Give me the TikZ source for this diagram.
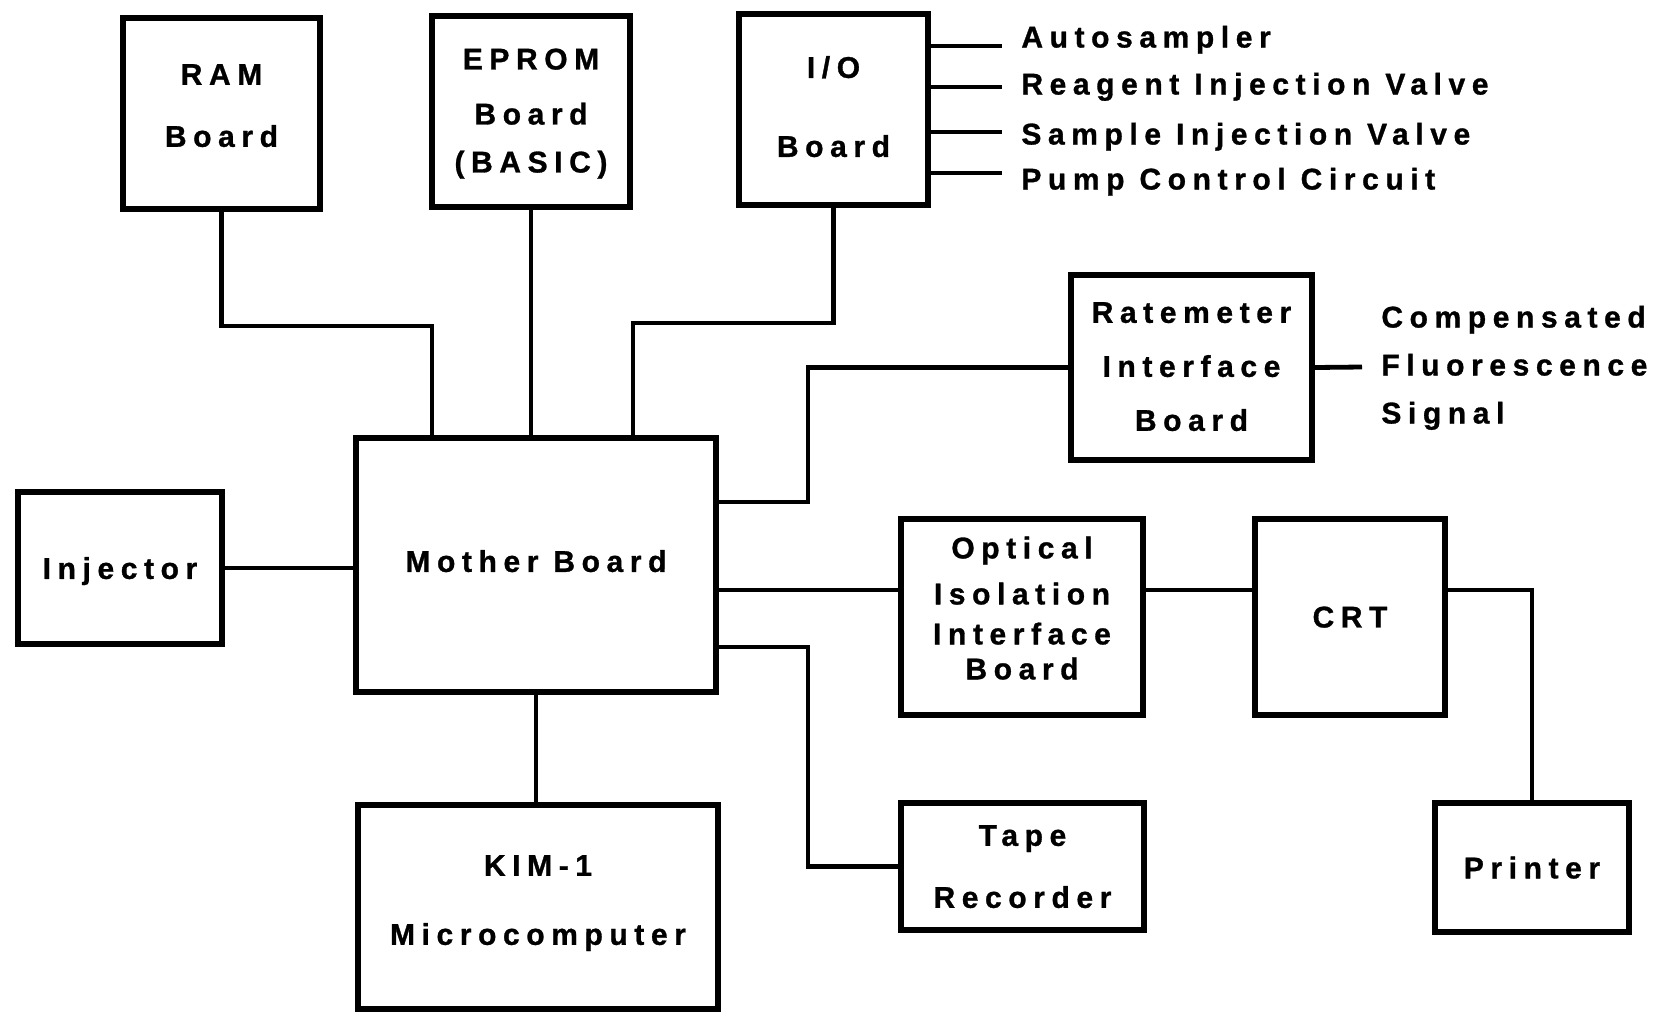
\documentclass[tikz,border=0pt]{standalone}
\usepackage{fontspec}
\newfontfamily\figfont[LetterSpace=22.0, FakeBold=1]{Liberation Sans}
\usepackage{tikz}
\usetikzlibrary{positioning}
\tikzset{
    block/.style={rectangle, draw=black, line width=2.8pt, fill=white, align=center, inner sep=0pt, text depth=0pt, font=\figfont\bfseries\fontsize{15}{18}\selectfont},
    wire/.style={line width=2.4pt},
    lbl/.style={inner sep=0pt, align=left, font=\figfont\bfseries\fontsize{15}{18}\selectfont}
}

\begin{document}
\begin{tikzpicture}[x=0.5pt, y=-0.5pt]
    \useasboundingbox (0,0) rectangle (1662,1013);
    % boards round the mother board
    \node (ram) [block, minimum width=98.7pt, minimum height=95.7pt, text depth=8pt] at (221.5,113.5) {RAM\\[13pt]Board};
    \node (eprom) [block, minimum width=99.2pt, minimum height=95.7pt, text depth=1pt] at (531,111.5) {EPROM\\[9.5pt]Board\\[6pt](BASIC)};
    \node (io) [block, minimum width=94.7pt, minimum height=95.7pt, text depth=3pt] at (833.5,109.5) {I/O\\[21.5pt]Board};
    \node (mother) [block, minimum width=180.2pt, minimum height=127.2pt, text depth=4pt] at (536,565) {Mother Board};
    \node (inj) [block, minimum width=102.2pt, minimum height=76.2pt] at (120,568) {Injector};
    \node (kim) [block, minimum width=180.2pt, minimum height=102.2pt, text depth=7pt] at (538,907) {KIM-1\\[16.5pt]Microcomputer};
    \node (rate) [block, minimum width=120.7pt, minimum height=92.7pt, text depth=1pt] at (1191.5,367.5) {Ratemeter\\[9pt]Interface\\[9pt]Board};
    \node (opt) [block, minimum width=121.2pt, minimum height=98.2pt, text depth=9pt] at (1022,617) {Optical\\[5pt]Isolation\\[2pt]Interface\\[-0.5pt]Board};
    \node (crt) [block, minimum width=95.2pt, minimum height=98.2pt] at (1350,617) {CRT};
    \node (tape) [block, minimum width=121.7pt, minimum height=63.7pt] at (1022.5,866.5) {Tape\\[13pt]Recorder};
    \node (prn) [block, minimum width=97.2pt, minimum height=64.7pt] at (1532,867.5) {Printer};

    % I/O lines and their labels
    \foreach \n/\y in {1/46, 2/87, 3/132, 4/173} {
        \coordinate (out\n) at (1002,\y);
        \draw [wire] (out\n -| io.east) -- (out\n);
    }
    \node (autos) [lbl, anchor=base west] at (1021,47.5) {Autosampler};
    \node (reag) [lbl, anchor=base west] at (1021,94.5) {Reagent Injection Valve};
    \node (samp) [lbl, anchor=base west] at (1021,144.5) {Sample Injection Valve};
    \node (pump) [lbl, anchor=base west] at (1021,189.5) {Pump Control Circuit};

    % bus lines
    \coordinate (ramturn) at (432,326);
    \coordinate (ioturn) at (633,323);
    \coordinate (rateturn) at (808,502);
    \coordinate (tapeturn) at (808,647);
    \coordinate (optlvl) at (0,590);
    \coordinate (sigend) at (1362,367);
    \draw [wire] (ram.south) |- (ramturn) -- (ramturn |- mother.north);
    \draw [wire] (eprom.south) -- (eprom.south |- mother.north);
    \draw [wire] (io.south) |- (ioturn) -- (ioturn |- mother.north);
    \draw [wire] (inj.east) -- (inj.east -| mother.west);
    \draw [wire] (mother.south) -- (mother.south |- kim.north);
    \draw [wire] (rateturn -| mother.east) -- (rateturn) |- (rate.west);
    \draw [wire] (tapeturn -| mother.east) -- (tapeturn) |- (tape.west);
    \draw [wire] (optlvl -| mother.east) -- (optlvl -| opt.west);
    \draw [wire] (optlvl -| opt.east) -- (optlvl -| crt.west);
    \draw [wire] (optlvl -| crt.east) -| (prn.north);
    \draw [wire] (rate.east) -- (sigend);
    \node (sig) [lbl, anchor=base west] at (1381,423.5) {Compensated\\[6pt]Fluorescence\\[6pt]Signal};
\end{tikzpicture}
\end{document}
